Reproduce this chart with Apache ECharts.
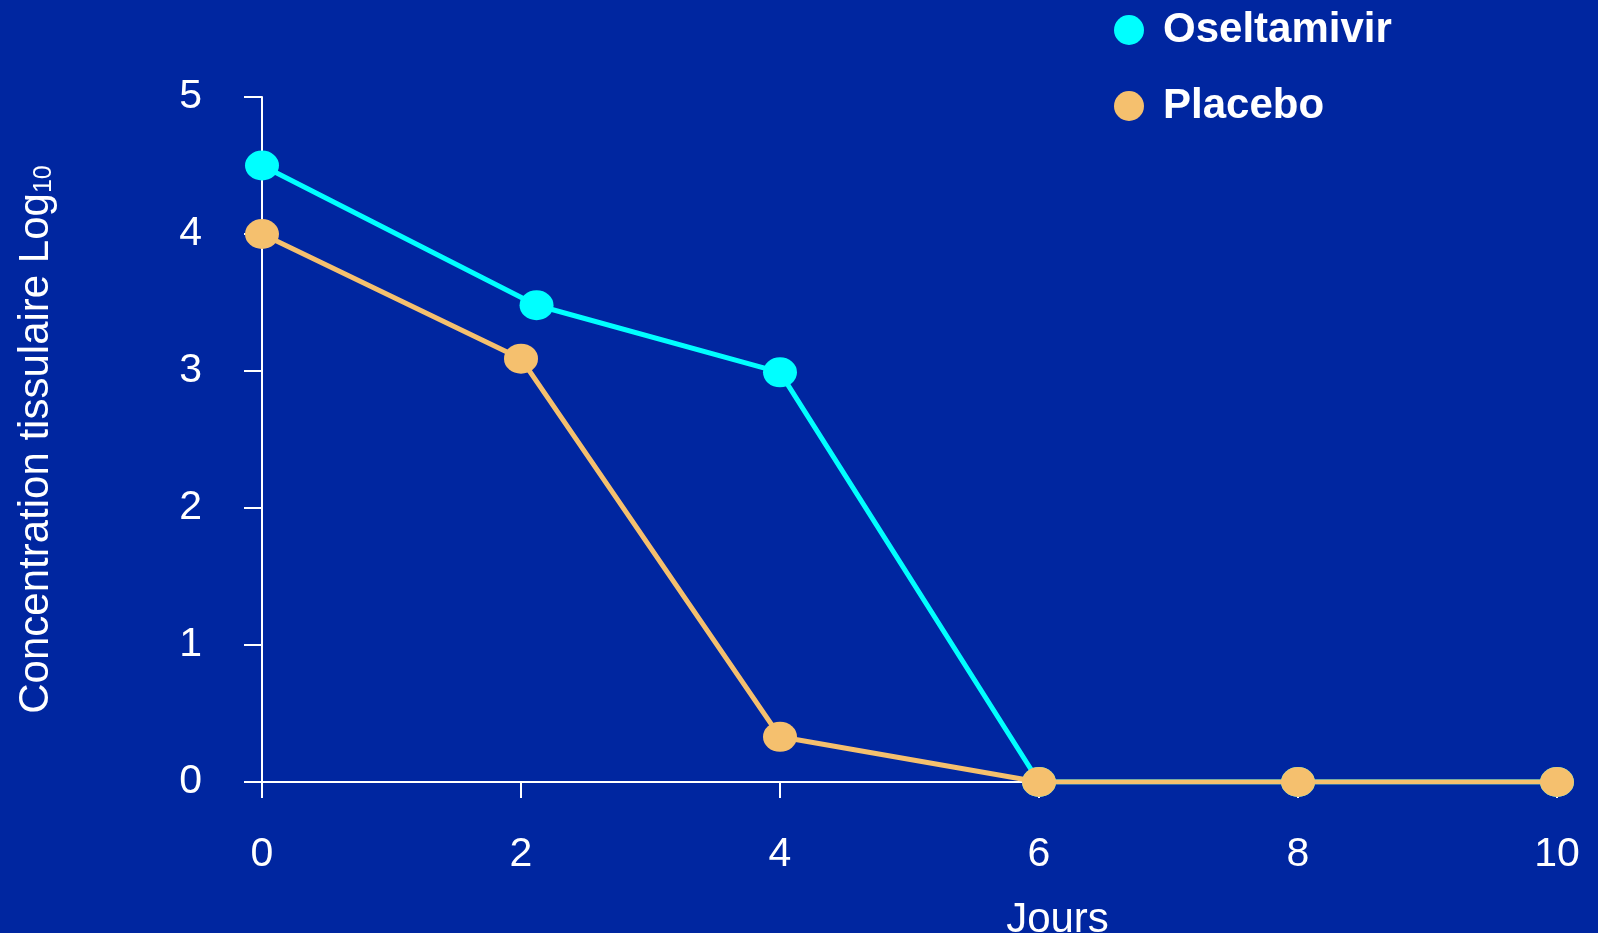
<!DOCTYPE html>
<html>
<head>
<meta charset="utf-8">
<script src="https://cdn.jsdelivr.net/npm/echarts@6/dist/echarts.min.js"></script>
<style>
  html, body { margin: 0; padding: 0; background: #0026a0; }
  #chart { width: 1598px; height: 933px; }
</style>
</head>
<body>
<div id="chart"></div>
<script>
// données
var jours = [0, 2, 4, 6, 8, 10];
var oseltamivirX = [0, 2.12, 4, 6, 8, 10];
var oseltamivir = [4.5, 3.48, 2.99, 0, 0, 0];
var placeboX = [0, 2, 4, 6, 8, 10];
var placebo = [4.0, 3.09, 0.33, 0, 0, 0];
var yTicks = [0, 1, 2, 3, 4, 5];

function pairs(xs, ys) {
  return xs.map(function (x, i) { return [x, ys[i]]; });
}

var font = "'Liberation Sans', Arial, sans-serif";
var white = '#ffffff';

var option = {
  backgroundColor: '#0026a0',
  animation: false,
  legend: {
    orient: 'vertical',
    left: 1109,
    top: 4,
    itemWidth: 34,
    itemHeight: 30,
    itemGap: 34,
    icon: 'circle',
    textStyle: {
      color: white,
      fontFamily: font,
      fontWeight: 'bold',
      fontSize: 42,
      padding: [0, 0, 0, 12]
    },
    data: ['Oseltamivir', 'Placebo']
  },
  grid: {
    left: 262,
    right: 41,
    top: 97,
    bottom: 151,
    containLabel: false,
    outerBoundsMode: 'none'
  },
  xAxis: {
    type: 'value',
    min: 0,
    max: 10,
    interval: 2,
    name: 'Jours',
    nameLocation: 'middle',
    nameGap: 117,
    nameTextStyle: {
      color: white,
      fontFamily: font,
      fontSize: 42,
      padding: [0, 0, 0, 296]
    },
    axisLine: { show: true, lineStyle: { color: white, width: 2 } },
    axisTick: { show: true, length: 16, lineStyle: { color: white, width: 2 } },
    axisLabel: {
      color: white,
      fontFamily: font,
      fontSize: 41,
      margin: 52
    },
    splitLine: { show: false }
  },
  yAxis: {
    type: 'value',
    min: 0,
    max: 5,
    interval: 1,
    name: '{n|Concentration tissulaire Log}{s|10}',
    nameLocation: 'middle',
    nameRotate: 90,
    nameGap: 205,
    nameTextStyle: {
      color: white,
      fontFamily: font,
      rich: {
        n: { color: white, fontFamily: font, fontSize: 42 },
        s: { color: white, fontFamily: font, fontSize: 25, padding: [16, 0, 0, 0] }
      }
    },
    axisLine: { show: true, lineStyle: { color: white, width: 2 } },
    axisTick: { show: true, length: 18, lineStyle: { color: white, width: 2 } },
    axisLabel: {
      color: white,
      fontFamily: font,
      fontSize: 41,
      margin: 60,
      formatter: function (v) { return yTicks.indexOf(v) >= 0 ? String(v) : ''; }
    },
    splitLine: { show: false }
  },
  series: [
    {
      name: 'Oseltamivir',
      type: 'line',
      data: pairs(oseltamivirX, oseltamivir),
      symbol: 'circle',
      symbolSize: [34, 30],
      itemStyle: { color: '#00ffff' },
      lineStyle: { color: '#00ffff', width: 5 },
      z: 2
    },
    {
      name: 'Placebo',
      type: 'line',
      data: pairs(placeboX, placebo),
      symbol: 'circle',
      symbolSize: [34, 30],
      itemStyle: { color: '#f5c06e' },
      lineStyle: { color: '#f5c06e', width: 5 },
      z: 3
    }
  ]
};

var chart = echarts.init(document.getElementById('chart'));
chart.setOption(option);
</script>
</body>
</html>
